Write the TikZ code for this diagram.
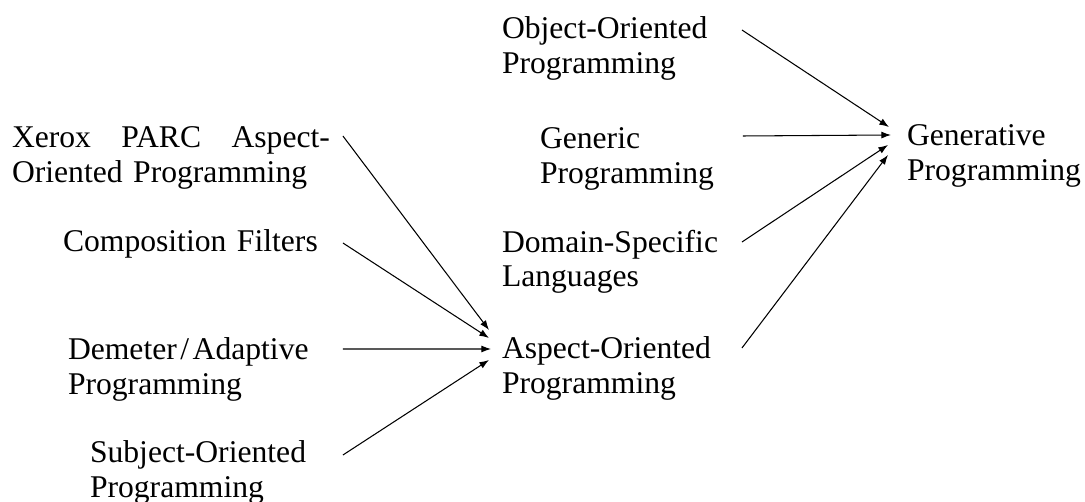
\documentclass[tikz,border=0pt]{standalone}
\usepackage{fontspec}
\setmainfont{Liberation Serif}
\usetikzlibrary{arrows.meta}

\tikzset{
  topic/.style={anchor=north west, inner sep=0pt, outer sep=0pt, align=left,
    font=\fontsize{18}{19.5}\selectfont},
  feeds/.style={-{Latex[length=5.5pt,width=4pt]}, line width=0.6pt}
}

\begin{document}
\begin{tikzpicture}[x=0.02cm, y=-0.02cm]
          \useasboundingbox (0,0) rectangle (1085,502); % 1 unit = 1 pixel of the target
          % sources of AOP
          \node[topic, text width=6.62cm] (xerox) at (12,127) {\makebox[6.36cm]{Xerox\hfill PARC\hfill Aspect-}\\Oriented Programming};
          \node[topic, text width=5.6cm] (compfilters) at (63,230) {Composition Filters};
          \node[topic, text width=5.5cm] (demeter) at (68,338) {Demeter\kern2pt/\kern2pt Adaptive\\Programming};
          \node[topic, text width=5.06cm] (subject) at (90,441) {Subject-Oriented\\Programming};
          % middle column
          \node[topic, text width=4.8cm] (oop) at (502,17) {Object-Oriented\\Programming};
          \node[topic, text width=4.06cm] (generic) at (540,128) {Generic\\Programming};
          \node[topic, text width=4.8cm] (dsl) at (502,230) {Domain-Specific\\Languages};
          \node[topic, text width=4.8cm] (aop) at (502,337) {Aspect-Oriented\\Programming};
          \node[topic] (genprog) at (907,125) {Generative\\Programming};
          % arrows into AOP
          \draw[feeds] ([yshift=-0.18cm]xerox.north east) -- ([xshift=-0.26cm, yshift=0.14cm]aop.north west);
          \draw[feeds] ([yshift=-0.26cm]compfilters.north east) -- ([xshift=-0.26cm, yshift=-0.02cm]aop.north west);
          \draw[feeds] ([yshift=-0.22cm]demeter.north east) -- ([xshift=-0.22cm, yshift=-0.24cm]aop.north west);
          \draw[feeds] ([yshift=-0.28cm]subject.north east) -- ([xshift=-0.26cm, yshift=-0.46cm]aop.north west);
          % arrows into generative programming
          \draw[feeds] ([yshift=-0.26cm]oop.north east) -- ([xshift=-0.36cm, yshift=-0.04cm]genprog.north west);
          \draw[feeds] ([yshift=-0.16cm]generic.north east) -- ([xshift=-0.32cm, yshift=-0.20cm]genprog.north west);
          \draw[feeds] ([yshift=-0.24cm]dsl.north east) -- ([xshift=-0.38cm, yshift=-0.40cm]genprog.north west);
          \draw[feeds] ([yshift=-0.22cm]aop.north east) -- ([xshift=-0.38cm, yshift=-0.60cm]genprog.north west);
        \end{tikzpicture}
\end{document}
